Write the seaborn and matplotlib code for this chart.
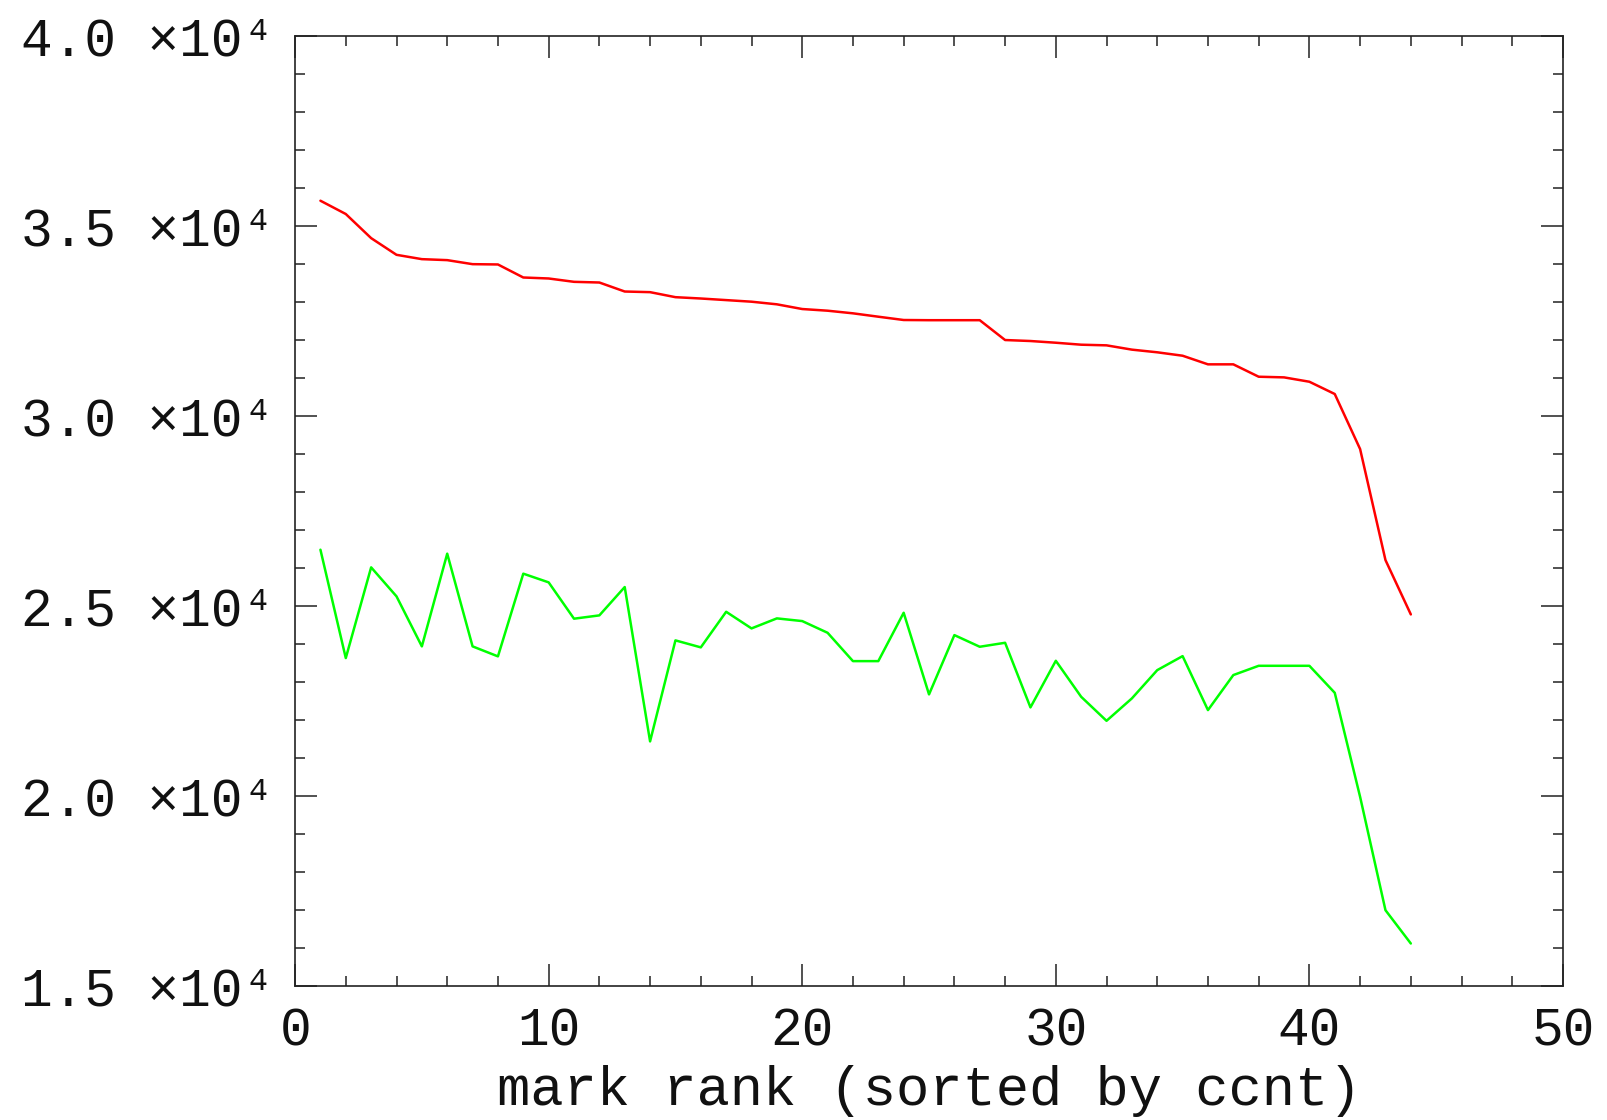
import numpy as np
import pandas as pd
import matplotlib
matplotlib.use("Agg")
import matplotlib.pyplot as plt
import seaborn as sns
from matplotlib.ticker import MultipleLocator, FuncFormatter

# ---- data ----
rank = list(range(1, 45))
red_values = [35660, 35310, 34675, 34236, 34122, 34096, 33990, 33982, 33639, 33613,
              33525, 33507, 33270, 33253, 33121, 33086, 33044, 33002, 32933, 32809,
              32765, 32696, 32607, 32520, 32515, 32515, 32515, 31993, 31967, 31922,
              31870, 31853, 31740, 31670, 31580, 31353, 31353, 31027, 31010, 30895,
              30572, 29123, 26201, 24770]
green_values = [26474, 23622, 26009, 25246, 23929, 26369, 23929, 23666, 25843, 25614,
                24658, 24745, 25491, 21428, 24087, 23903, 24840, 24402, 24666, 24595,
                24287, 23541, 23541, 24814, 22665, 24226, 23919, 24024, 22323, 23550,
                22602, 21970, 22560, 23304, 23673, 22252, 23174, 23418, 23418, 23418,
                22707, 19968, 16985, 16108]
series_names = ["red", "green"]
x_label = "mark rank (sorted by ccnt)"

df = pd.DataFrame({
    "rank": rank * 2,
    "value": red_values + green_values,
    "series": [series_names[0]] * len(rank) + [series_names[1]] * len(rank),
})

sns.set_style("ticks")
plt.rcParams["font.family"] = ["Liberation Mono", "DejaVu Sans Mono"]

fig = plt.figure(figsize=(16.08, 11.2), dpi=100)
ax = fig.add_axes([0.1835, 0.12, 0.7885, 0.848])

sns.lineplot(data=df, x="rank", y="value", hue="series",
             palette={"red": "#ff0000", "green": "#00ff00"},
             estimator=None, sort=False, linewidth=1.8, legend=False, ax=ax)

ax.set_xlim(0, 50)
ax.set_ylim(15000, 40000)
ax.xaxis.set_major_locator(MultipleLocator(10))
ax.xaxis.set_minor_locator(MultipleLocator(2))
ax.yaxis.set_major_locator(MultipleLocator(5000))
ax.yaxis.set_minor_locator(MultipleLocator(1000))
ax.xaxis.set_major_formatter(FuncFormatter(lambda v, p: f"{v:.0f}"))
ax.yaxis.set_major_formatter(FuncFormatter(lambda v, p: f"{v/1e4:.1f} \u00d710\u2074"))

for s in ax.spines.values():
    s.set_visible(True)
    s.set_color("#222222")
    s.set_linewidth(1.2)

ax.tick_params(which="both", direction="in", top=True, right=True,
               color="#222222", width=1.1, labelsize=38, labelcolor="#111111")
ax.tick_params(which="major", length=16, pad=15)
ax.tick_params(which="minor", length=7)

ax.set_xlabel(x_label, fontsize=40, color="#111111", labelpad=6)
ax.set_ylabel("")

fig.savefig("out.png", dpi=100, facecolor="white")
